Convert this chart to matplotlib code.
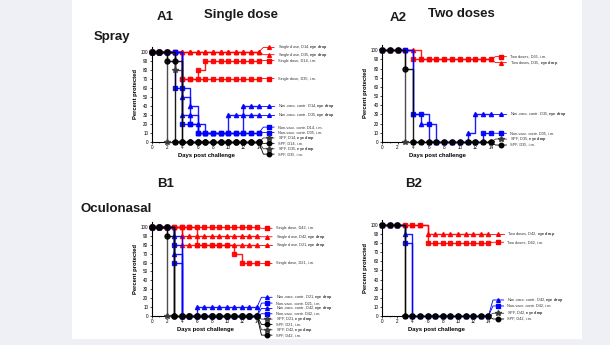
import numpy as np
import matplotlib.pyplot as plt
from matplotlib.patches import Rectangle

plt.rcParams['font.family'] = ['Liberation Sans', 'DejaVu Sans']
plt.rcParams['mathtext.fontset'] = 'custom'
plt.rcParams['mathtext.rm'] = 'Liberation Sans'
plt.rcParams['mathtext.bf'] = 'Liberation Sans:bold'

days = np.arange(0, 15)

# A1 - spray, single dose
a1_groups = ["Single dose, D14", "Single dose, D35", "Single dose, D14", "Single dose, D35",
             "Non-vacc. contr. D14", "Non-vacc. contr. D35", "Non-vacc. contr. D14", "Non-vacc. contr. D35",
             "SPF, D14", "SPF, D14", "SPF, D35", "SPF, D35"]
a1_routes = ["eye drop", "eye drop", "i.m.", "i.m.",
             "eye drop", "eye drop", "i.m.", "i.m.",
             "eye drop", "i.m.", "eye drop", "i.m."]
a1_values = [
    [100, 100, 100, 100, 100, 100, 100, 100, 100, 100, 100, 100, 100, 100, 100],
    [100, 100, 100, 100, 100, 100, 100, 100, 100, 100, 100, 100, 100, 100, 100],
    [100, 100, 100, 100, 70, 70, 80, 90, 90, 90, 90, 90, 90, 90, 90],
    [100, 100, 100, 100, 70, 70, 70, 70, 70, 70, 70, 70, 70, 70, 70],
    [100, 100, 100, 100, 50, 40, 10, 10, 10, 10, 30, 30, 40, 40, 40],
    [100, 100, 100, 100, 30, 30, 20, 10, 10, 10, 10, 10, 30, 30, 30],
    [100, 100, 100, 60, 60, 20, 10, 10, 10, 10, 10, 10, 10, 10, 10],
    [100, 100, 100, 100, 20, 20, 10, 10, 10, 10, 10, 10, 10, 10, 10],
    [100, 100, 0, 0, 0, 0, 0, 0, 0, 0, 0, 0, 0, 0, 0],
    [100, 100, 90, 0, 0, 0, 0, 0, 0, 0, 0, 0, 0, 0, 0],
    [100, 100, 100, 80, 0, 0, 0, 0, 0, 0, 0, 0, 0, 0, 0],
    [100, 100, 100, 90, 0, 0, 0, 0, 0, 0, 0, 0, 0, 0, 0],
]

# A2 - spray, two doses
a2_groups = ["Two doses, D35", "Two doses, D35", "Non-vacc. contr. D35", "Non-vacc. contr. D35",
             "SPF, D35", "SPF, D35"]
a2_routes = ["i.m.", "eye drop", "eye drop", "i.m.", "eye drop", "i.m."]
a2_values = [
    [100, 100, 100, 100, 90, 90, 90, 90, 90, 90, 90, 90, 90, 90, 90],
    [100, 100, 100, 100, 100, 90, 90, 90, 90, 90, 90, 90, 90, 90, 90],
    [100, 100, 100, 100, 30, 20, 0, 0, 0, 0, 0, 10, 30, 30, 30],
    [100, 100, 100, 100, 30, 30, 20, 0, 0, 0, 0, 0, 0, 10, 10],
    [100, 100, 100, 0, 0, 0, 0, 0, 0, 0, 0, 0, 0, 0, 0],
    [100, 100, 100, 80, 0, 0, 0, 0, 0, 0, 0, 0, 0, 0, 0],
]

# B1 - oculonasal, single dose
b1_groups = ["Single dose, D42", "Single dose, D42", "Single dose, D21", "Single dose, D21",
             "Non-vacc. contr. D21", "Non-vacc. contr. D21", "Non-vacc. contr. D42", "Non-vacc. contr. D42",
             "SPF, D21", "SPF, D21", "SPF, D42", "SPF, D42"]
b1_routes = ["i.m.", "eye drop", "eye drop", "i.m.",
             "eye drop", "i.m.", "eye drop", "i.m.",
             "eye drop", "i.m.", "eye drop", "i.m."]
b1_values = [
    [100, 100, 100, 100, 100, 100, 100, 100, 100, 100, 100, 100, 100, 100, 100],
    [100, 100, 100, 100, 90, 90, 90, 90, 90, 90, 90, 90, 90, 90, 90],
    [100, 100, 100, 100, 80, 80, 80, 80, 80, 80, 80, 80, 80, 80, 80],
    [100, 100, 100, 100, 100, 100, 80, 80, 80, 80, 80, 70, 60, 60, 60],
    [100, 100, 100, 90, 0, 0, 10, 10, 10, 10, 10, 10, 10, 10, 10],
    [100, 100, 100, 80, 0, 0, 0, 0, 0, 0, 0, 0, 0, 0, 0],
    [100, 100, 100, 70, 0, 0, 0, 0, 0, 0, 0, 0, 0, 0, 0],
    [100, 100, 100, 60, 0, 0, 0, 0, 0, 0, 0, 0, 0, 0, 0],
    [100, 100, 0, 0, 0, 0, 0, 0, 0, 0, 0, 0, 0, 0, 0],
    [100, 100, 90, 0, 0, 0, 0, 0, 0, 0, 0, 0, 0, 0, 0],
    [100, 100, 100, 0, 0, 0, 0, 0, 0, 0, 0, 0, 0, 0, 0],
    [100, 100, 100, 0, 0, 0, 0, 0, 0, 0, 0, 0, 0, 0, 0],
]

# B2 - oculonasal, two doses
b2_groups = ["Two doses, D42", "Two doses, D42", "Non-vacc. contr. D42", "Non-vacc. contr. D42",
             "SPF, D42", "SPF, D42"]
b2_routes = ["eye drop", "i.m.", "eye drop", "i.m.", "eye drop", "i.m."]
b2_values = [
    [100, 100, 100, 100, 100, 100, 90, 90, 90, 90, 90, 90, 90, 90, 90],
    [100, 100, 100, 100, 100, 100, 80, 80, 80, 80, 80, 80, 80, 80, 80],
    [100, 100, 100, 90, 0, 0, 0, 0, 0, 0, 0, 0, 0, 0, 0],
    [100, 100, 100, 80, 0, 0, 0, 0, 0, 0, 0, 0, 0, 0, 0],
    [100, 100, 100, 0, 0, 0, 0, 0, 0, 0, 0, 0, 0, 0, 0],
    [100, 100, 100, 0, 0, 0, 0, 0, 0, 0, 0, 0, 0, 0, 0],
]

RED, BLUE, BLACK, GREY = '#ff0000', '#0000ff', '#000000', '#3a3a3a'


def series_style(group, route):
    if group.startswith('SPF'):
        return (GREY if route == 'eye drop' else BLACK), ('*' if route == 'eye drop' else 'o'), 3
    if group.startswith('Non-vacc'):
        return BLUE, ('^' if route == 'eye drop' else 's'), 2
    return RED, ('s' if route == 'i.m.' else '^'), 1


def label_text(group, route):
    if route == 'eye drop':
        return group + r", $\bf{eye\ drop}$"
    return group + ", i.m."


def panel(rect, groups, routes, values, key_y):
    ax = fig.add_axes(rect)
    ax.set_facecolor('none')
    for g, r, v, ky in zip(groups, routes, values, key_y):
        color, marker, z = series_style(g, r)
        ms = {'*': 4.4, 'o': 3.6}.get(marker, 3.0)
        ax.plot(days, v, drawstyle='steps-post', color=color, lw=1.0,
                marker=marker, ms=ms, clip_on=False, zorder=z + 2, alpha=0.9)
        # key entry joined to the end of its curve
        ax.plot([14, 14.6, 16.0], [v[-1], ky, ky], color=color, lw=0.6,
                clip_on=False, zorder=z + 2)
        ax.plot([15.3], [ky], marker=marker, ms=ms * 0.9, color=color, clip_on=False)
        ax.text(16.5, ky, label_text(g, r), fontsize=2.8, va='center', color='#333333')
    ax.set_xlim(0, 14.2)
    ax.set_ylim(0, 106)
    ax.set_xticks(range(0, 15, 2))
    ax.set_xticks(range(0, 15), minor=True)
    ax.set_yticks(range(0, 101, 10))
    for s in ['top', 'right']:
        ax.spines[s].set_visible(False)
    for s in ['left', 'bottom']:
        ax.spines[s].set_linewidth(0.8)
    ax.tick_params(labelsize=3.3, length=1.5, width=0.5, pad=1)
    ax.tick_params(which='minor', length=1, width=0.4)
    ax.set_xlabel('Days post challenge', fontsize=4.2, fontweight='bold', labelpad=2)
    ax.set_ylabel('Percent protected', fontsize=4.2, fontweight='bold', labelpad=2)
    return ax


fig = plt.figure(figsize=(6.1, 3.45), dpi=100, facecolor='#eef0f6')
fig.patches.append(Rectangle((72 / 610, 6 / 345), 510 / 610, 339 / 345,
                             transform=fig.transFigure, facecolor='white',
                             edgecolor='none', zorder=-10))

panel([0.2487, 0.5884, 0.178, 0.2766], a1_groups, a1_routes, a1_values,
      [105, 97, 90.5, 70.5, 40, 30, 16.5, 10.5, 4.5, -1.5, -7.5, -13.5])
panel([0.6262, 0.5884, 0.181, 0.282], a2_groups, a2_routes, a2_values,
      [93, 86.5, 30, 9.5, 3.2, -3.3])
panel([0.2487, 0.0841, 0.175, 0.2735], b1_groups, b1_routes, b1_values,
      [98.5, 89, 80, 59, 21, 14.5, 8.5, 2.5, -3.5, -9.5, -15.5, -21.5])
panel([0.6262, 0.0841, 0.177, 0.2796], b2_groups, b2_routes, b2_values,
      [90, 81, 17.6, 11, 3, -3.3])

tkw = dict(fontweight='bold', color='#1a1a1a', ha='center', va='center')
fig.text(165 / 610, 1 - 17 / 345, 'A1', fontsize=9.5, **tkw)
fig.text(241 / 610, 1 - 15 / 345, 'Single dose', fontsize=9.5, **tkw)
fig.text(398 / 610, 1 - 18 / 345, 'A2', fontsize=9.5, **tkw)
fig.text(461 / 610, 1 - 14 / 345, 'Two doses', fontsize=9.5, **tkw)
fig.text(112 / 610, 1 - 37 / 345, 'Spray', fontsize=9.5, **tkw)
fig.text(166 / 610, 1 - 184 / 345, 'B1', fontsize=9.5, **tkw)
fig.text(414 / 610, 1 - 184 / 345, 'B2', fontsize=9.5, **tkw)
fig.text(116 / 610, 1 - 209 / 345, 'Oculonasal', fontsize=9.5, **tkw)

fig.savefig('out.png', dpi=100, facecolor=fig.get_facecolor())
